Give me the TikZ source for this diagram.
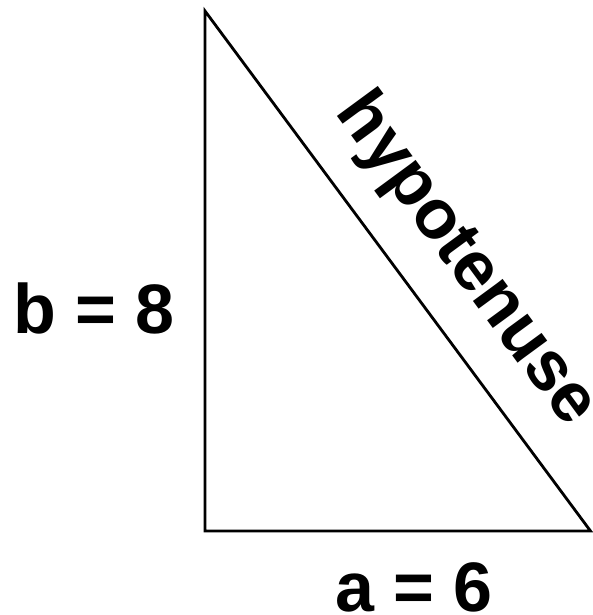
\documentclass[tikz,border=0pt]{standalone}
\usepackage{fontspec}
\setmainfont{Liberation Sans}
\tikzset{
    rotulo/.style={font=\fontsize{70}{84}\selectfont\bfseries, inner sep=0pt, anchor=base},
    lado/.style={line width=2.8pt, line join=miter}
}
\begin{document}
\begin{tikzpicture}[x=1pt, y=-1pt]
\useasboundingbox (0,0) rectangle (592,615);
% Vertices
\coordinate (T) at (205,11);
\coordinate (L) at (205,531);
\coordinate (R) at (590.5,531);

% Triangulo
\draw[lado] (T) -- (L) -- (R) -- cycle;

% Rotulos
\node[rotulo] (b) at (94,333) {b = 8};
\node[rotulo] (a) at (414,611) {a = 6};
\node[rotulo, rotate=-53.7] (hip) at (451,271) {hypotenuse};
\end{tikzpicture}
\end{document}
